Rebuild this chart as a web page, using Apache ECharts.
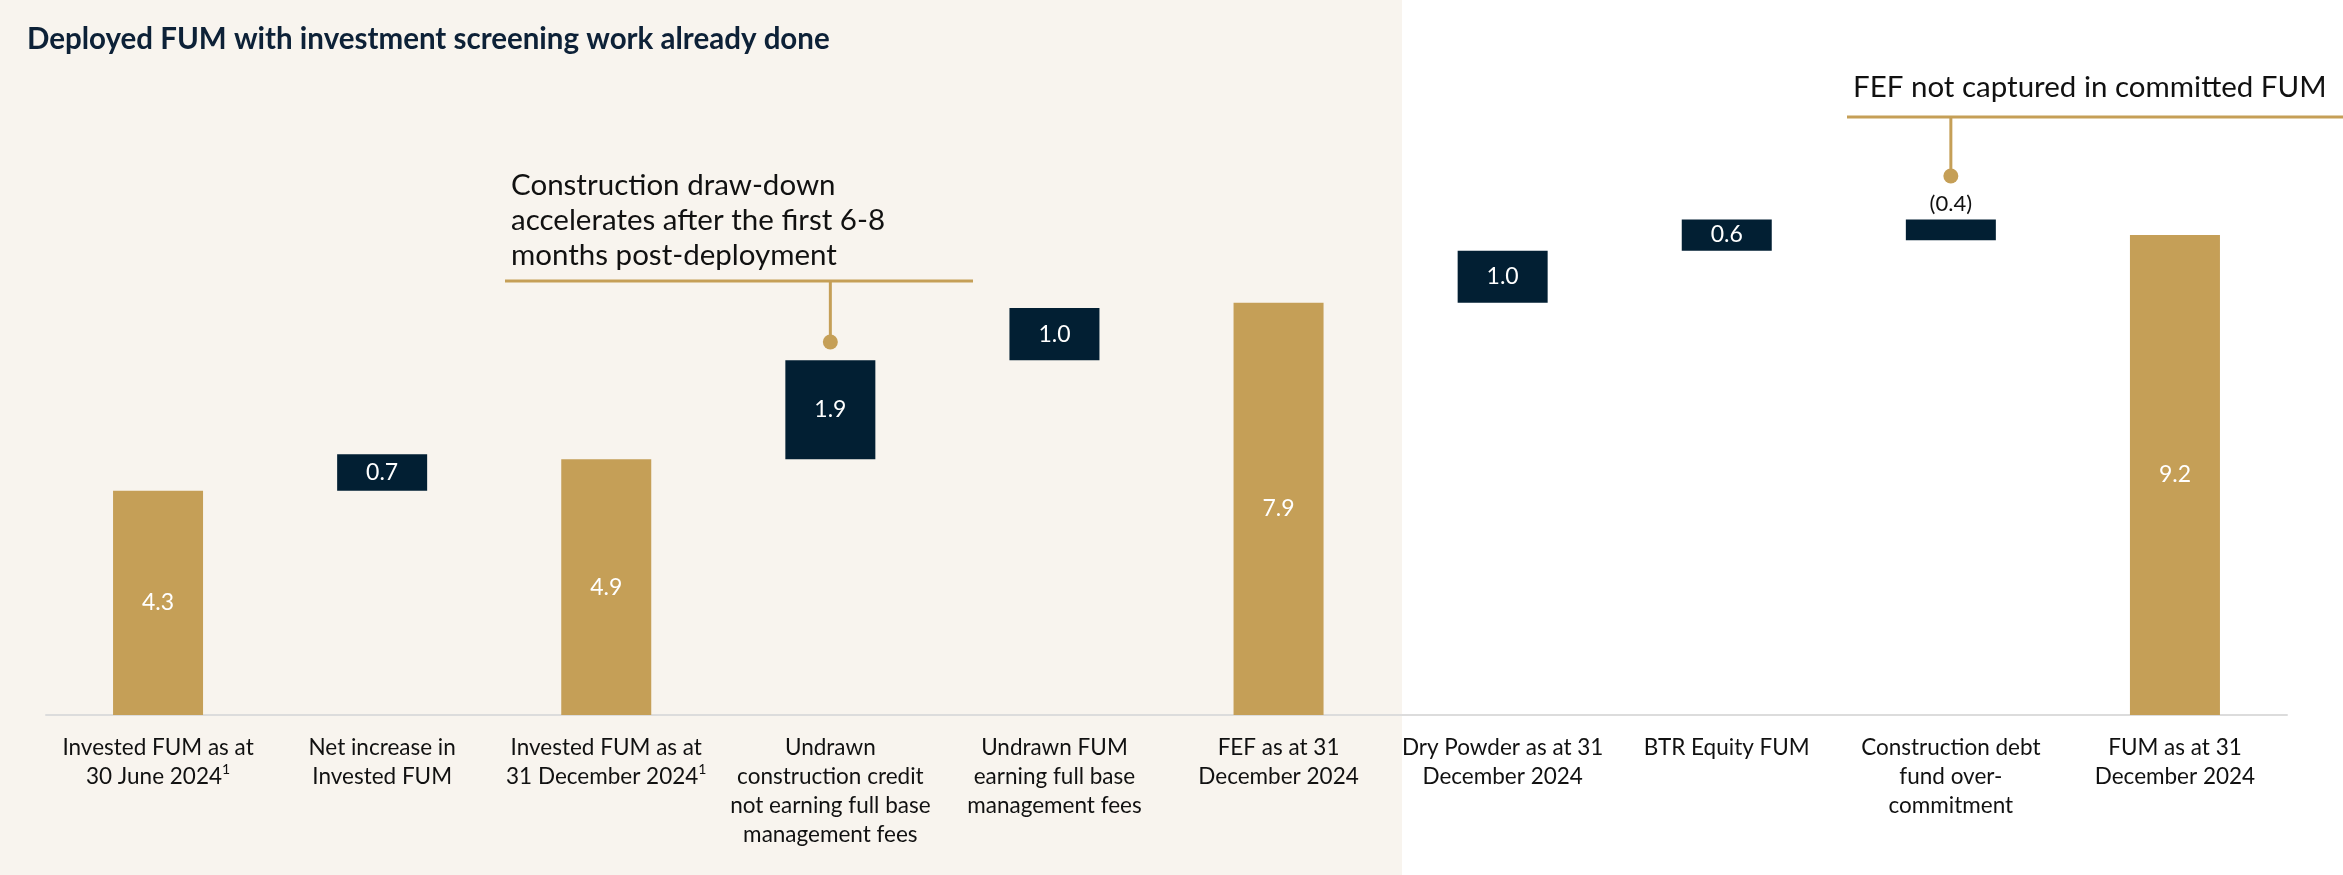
<!DOCTYPE html>
<html>
<head>
<meta charset="utf-8">
<script src="https://cdn.jsdelivr.net/npm/echarts@6/dist/echarts.min.js"></script>
<style>
html,body{margin:0;padding:0;background:#ffffff;}
#chart{width:2343px;height:875px;}
</style>
</head>
<body>
<div id="chart"></div>
<script>
// ---- data ----
const categories = [
  'Invested FUM as at\n30 June 2024{sup|1}',
  'Net increase in\nInvested FUM',
  'Invested FUM as at\n31 December 2024{sup|1}',
  'Undrawn\nconstruction credit\nnot earning full base\nmanagement fees',
  'Undrawn FUM\nearning full base\nmanagement fees',
  'FEF as at 31\nDecember 2024',
  'Dry Powder as at 31\nDecember 2024',
  'BTR Equity FUM',
  'Construction debt\nfund over-\ncommitment',
  'FUM as at 31\nDecember 2024'
];
const totalValues  = [4.3, null, 4.9, null, null, 7.9, null, null, null, 9.2];
const changeValues = [null, 0.7, null, 1.9, 1.0, null, 1.0, 0.6, -0.4, null];
const titleText = 'Deployed FUM with investment screening work already done';
const note1Lines = ['Construction draw-down', 'accelerates after the first 6-8', 'months post-deployment'];
const note2Text = 'FEF not captured in committed FUM';
const note1Index = 3;
const note2Index = 8;

// ---- build waterfall ----
const GOLD = '#c59f57';
const NAVY = '#021f33';
const baseData = [], totalData = [], changeData = [];
let running = 0;
categories.forEach((c, i) => {
  if (totalValues[i] != null) {
    baseData.push(0);
    totalData.push(totalValues[i]);
    changeData.push('-');
    running = totalValues[i];
  } else {
    const d = changeValues[i];
    if (d >= 0) {
      baseData.push(running);
      running += d;
    } else {
      running += d;
      baseData.push(running);
    }
    totalData.push('-');
    changeData.push({
      value: Math.abs(d),
      label: d < 0 ? {position: 'top', color: '#111111', distance: 4, fontSize: 22} : undefined
    });
  }
});

const chart = echarts.init(document.getElementById('chart'), null, {renderer: 'canvas'});
const FONT = 'Lato, "Open Sans", sans-serif';

const option = {
  animation: false,
  backgroundColor: '#ffffff',
  textStyle: {fontFamily: FONT},
  grid: {left: 46, right: 56, top: 42, bottom: 160, containLabel: false},
  xAxis: {
    type: 'category',
    data: categories,
    axisLine: {show: true, lineStyle: {color: '#dcdcdc', width: 2}},
    axisTick: {show: false},
    axisLabel: {
      interval: 0,
      margin: 18,
      fontSize: 22.5,
      lineHeight: 29,
      color: '#111111',
      fontFamily: FONT,
      rich: {
        sup: {fontSize: 14, verticalAlign: 'top', lineHeight: 29, color: '#111111', fontFamily: FONT, padding: [0, 0, 12, 0]}
      }
    }
  },
  yAxis: {
    type: 'value', min: 0, max: 12.9, show: false,
    splitLine: {show: false}
  },
  series: [
    {
      name: 'base', type: 'bar', stack: 'w', barWidth: 90,
      itemStyle: {color: 'transparent'},
      emphasis: {disabled: true},
      data: baseData, z: 1
    },
    {
      name: 'total', type: 'bar', stack: 'w', barWidth: 90,
      itemStyle: {color: GOLD},
      label: {show: true, position: 'inside', color: '#ffffff', fontSize: 23, fontFamily: FONT,
        formatter: p => Number(p.value).toFixed(1)},
      data: totalData, z: 2
    },
    {
      name: 'change', type: 'bar', stack: 'w', barWidth: 90,
      itemStyle: {color: NAVY},
      label: {show: true, position: 'inside', color: '#ffffff', fontSize: 23, fontFamily: FONT,
        formatter: p => {
          const d = changeValues[p.dataIndex];
          return d < 0 ? '(' + Math.abs(d).toFixed(1) + ')' : d.toFixed(1);
        }},
      data: changeData, z: 2
    }
  ]
};
chart.setOption(option);

// ---- annotations (layout only) ----
const x1 = chart.convertToPixel({xAxisIndex: 0}, note1Index);
const x2 = chart.convertToPixel({xAxisIndex: 0}, note2Index);
const graphics = [
  {type: 'rect', z: -10, silent: true, shape: {x: 0, y: 0, width: 1402, height: 875}, style: {fill: '#f8f4ee'}},
  {type: 'text', x: 27, y: 24, style: {text: titleText, fill: '#0d2137', font: 'bold 29.5px ' + FONT}},
  // note 1
  {type: 'text', x: 511, y: 168, style: {text: note1Lines.join('\n'), fill: '#111111', font: '29.5px ' + FONT, lineHeight: 35}},
  {type: 'line', shape: {x1: 505, y1: 281, x2: 973, y2: 281}, style: {stroke: GOLD, lineWidth: 3}},
  {type: 'line', shape: {x1: x1, y1: 281, x2: x1, y2: 342}, style: {stroke: GOLD, lineWidth: 3}},
  {type: 'circle', shape: {cx: x1, cy: 342, r: 7.5}, style: {fill: GOLD}},
  // note 2
  {type: 'text', x: 1853, y: 72, style: {text: note2Text, fill: '#111111', font: '29.5px ' + FONT}},
  {type: 'line', shape: {x1: 1847, y1: 117, x2: 2343, y2: 117}, style: {stroke: GOLD, lineWidth: 3}},
  {type: 'line', shape: {x1: x2, y1: 117, x2: x2, y2: 176}, style: {stroke: GOLD, lineWidth: 3}},
  {type: 'circle', shape: {cx: x2, cy: 176, r: 7.5}, style: {fill: GOLD}}
];
chart.setOption({graphic: graphics});
</script>
</body>
</html>
